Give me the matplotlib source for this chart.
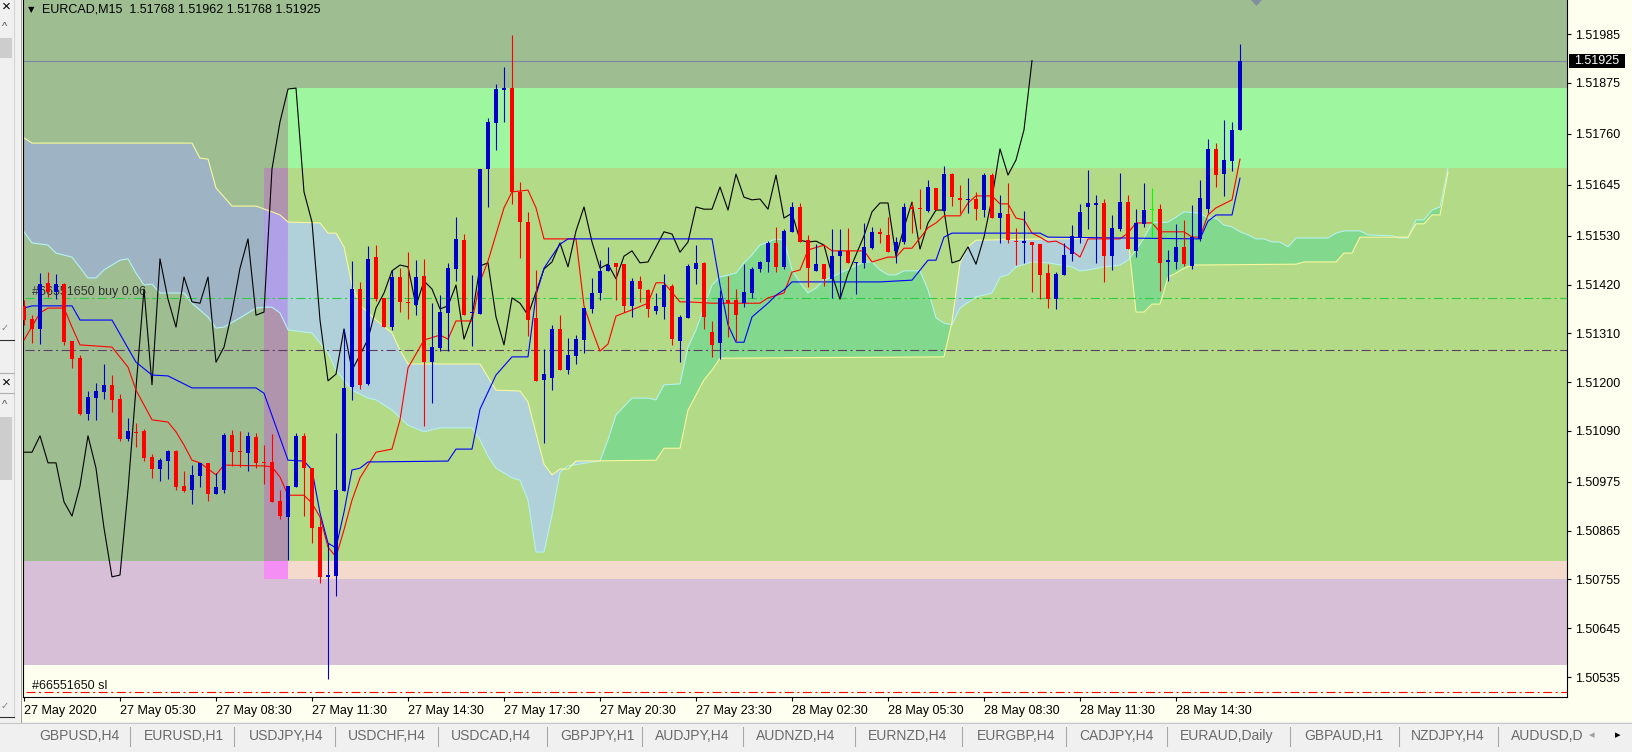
import numpy as np
import matplotlib
matplotlib.use('Agg')
import matplotlib.pyplot as plt
from matplotlib.patches import Rectangle, Polygon
import matplotlib.transforms as mtrans

plt.rcParams['font.family'] = ['Liberation Sans', 'DejaVu Sans']
plt.rcParams['lines.scale_dashes'] = False

# ---------------- data (EURCAD M15, bar 0 = 27 May 02:30) ----------------
symbol = 'EURCAD,M15'
time_labels = ['27 May 2020', '27 May 05:30', '27 May 08:30', '27 May 11:30',
               '27 May 14:30', '27 May 17:30', '27 May 20:30', '27 May 23:30',
               '28 May 02:30', '28 May 05:30', '28 May 08:30', '28 May 11:30',
               '28 May 14:30']
price_ticks = [1.51985, 1.51875, 1.51760, 1.51645, 1.51530, 1.51420, 1.51310,
               1.51200, 1.51090, 1.50975, 1.50865, 1.50755, 1.50645, 1.50535]

opens = [1.51372, 1.51342, 1.51320, 1.51424, 1.51403, 1.51421, 1.51293, 1.51254, 1.51128, 1.51164,
         1.51178, 1.51194, 1.51162, 1.51072, 1.51088, 1.51090, 1.51031, 1.51004, 1.51022, 1.51045,
         1.50966, 1.50957, 1.50988, 1.51018, 1.50948, 1.50957, 1.51081, 1.51045, 1.51040, 1.51076,
         1.51020, 1.51020, 1.50932, 1.50896, 1.50964, 1.51079, 1.51006, 1.50873, 1.50761, 1.50763,
         1.50954, 1.51189, 1.51410, 1.51196, 1.51482, 1.51390, 1.51324, 1.51437, 1.51381, 1.51374,
         1.51439, 1.51245, 1.51277, 1.51356, 1.51455, 1.51520, 1.51356, 1.51354, 1.51681, 1.51784,
         1.51859, 1.51863, 1.51629, 1.51561, 1.51345, 1.51205, 1.51209, 1.51320, 1.51227, 1.51259,
         1.51295, 1.51365, 1.51401, 1.51451, 1.51469, 1.51466, 1.51372, 1.51428, 1.51408, 1.51360,
         1.51369, 1.51417, 1.51293, 1.51345, 1.51455, 1.51469, 1.51313, 1.51288, 1.51385, 1.51385,
         1.51378, 1.51401, 1.51455, 1.51471, 1.51514, 1.51460, 1.51539, 1.51595, 1.51520, 1.51451,
         1.51466, 1.51433, 1.51484, 1.51496, 1.51469, 1.51469, 1.51502, 1.51539, 1.51532, 1.51496,
         1.51516, 1.51595, 1.51593, 1.51586, 1.51638, 1.51586, 1.51669, 1.51615, 1.51611, 1.51613,
         1.51588, 1.51667, 1.51570, 1.51579, 1.51518, 1.51514, 1.51516, 1.51511, 1.51446, 1.51387,
         1.51442, 1.51489, 1.51527, 1.51595, 1.51599, 1.51604, 1.51484, 1.51545, 1.51606, 1.51496,
         1.51557, 1.51588, 1.51590, 1.51471, 1.51471, 1.51505, 1.51462, 1.51523, 1.51590, 1.51726,
         1.51669, 1.51699, 1.51768]
highs = [1.51385, 1.51351, 1.51446, 1.51448, 1.51444, 1.51424, 1.51293, 1.51261, 1.51180, 1.51198,
         1.51241, 1.51216, 1.51173, 1.51119, 1.51108, 1.51094, 1.51038, 1.51029, 1.51047, 1.51047,
         1.51000, 1.51013, 1.51018, 1.51018, 1.50995, 1.51085, 1.51092, 1.51090, 1.51088, 1.51085,
         1.51058, 1.51083, 1.50957, 1.50966, 1.51085, 1.51085, 1.51006, 1.50896, 1.50837, 1.51085,
         1.51320, 1.51473, 1.51426, 1.51507, 1.51509, 1.51390, 1.51453, 1.51457, 1.51493, 1.51475,
         1.51478, 1.51378, 1.51396, 1.51469, 1.51572, 1.51534, 1.51442, 1.51681, 1.51796, 1.51872,
         1.51911, 1.51983, 1.51651, 1.51584, 1.51453, 1.51275, 1.51329, 1.51351, 1.51300, 1.51306,
         1.51367, 1.51435, 1.51475, 1.51505, 1.51469, 1.51466, 1.51435, 1.51439, 1.51410, 1.51401,
         1.51444, 1.51421, 1.51351, 1.51466, 1.51509, 1.51471, 1.51338, 1.51408, 1.51439, 1.51410,
         1.51466, 1.51460, 1.51473, 1.51518, 1.51550, 1.51545, 1.51606, 1.51604, 1.51532, 1.51511,
         1.51466, 1.51545, 1.51545, 1.51548, 1.51471, 1.51559, 1.51550, 1.51548, 1.51572, 1.51527,
         1.51604, 1.51606, 1.51636, 1.51656, 1.51638, 1.51687, 1.51672, 1.51645, 1.51660, 1.51629,
         1.51672, 1.51672, 1.51622, 1.51649, 1.51548, 1.51586, 1.51516, 1.51511, 1.51466, 1.51448,
         1.51514, 1.51554, 1.51602, 1.51678, 1.51622, 1.51613, 1.51577, 1.51672, 1.51622, 1.51590,
         1.51649, 1.51638, 1.51602, 1.51498, 1.51557, 1.51566, 1.51599, 1.51656, 1.51748, 1.51739,
         1.51791, 1.51787, 1.51962]
lows = [1.51329, 1.51288, 1.51286, 1.51392, 1.51387, 1.51284, 1.51232, 1.51126, 1.51115, 1.51115,
        1.51162, 1.51133, 1.51067, 1.51067, 1.51054, 1.51022, 1.50984, 1.50977, 1.50982, 1.50957,
        1.50952, 1.50925, 1.50964, 1.50932, 1.50948, 1.50950, 1.51011, 1.51009, 1.51000, 1.51006,
        1.50970, 1.50930, 1.50891, 1.50799, 1.50964, 1.50898, 1.50837, 1.50747, 1.50531, 1.50718,
        1.50954, 1.51160, 1.51184, 1.51194, 1.51383, 1.51324, 1.51318, 1.51358, 1.51342, 1.51351,
        1.51101, 1.51153, 1.51270, 1.51270, 1.51428, 1.51351, 1.51281, 1.51354, 1.51595, 1.51723,
        1.51787, 1.51602, 1.51480, 1.51304, 1.51203, 1.51063, 1.51182, 1.51227, 1.51218, 1.51241,
        1.51266, 1.51356, 1.51385, 1.51451, 1.51385, 1.51358, 1.51347, 1.51381, 1.51347, 1.51354,
        1.51342, 1.51284, 1.51245, 1.51345, 1.51421, 1.51320, 1.51257, 1.51252, 1.51302, 1.51293,
        1.51369, 1.51390, 1.51448, 1.51448, 1.51448, 1.51455, 1.51539, 1.51516, 1.51415, 1.51451,
        1.51417, 1.51390, 1.51390, 1.51469, 1.51399, 1.51457, 1.51500, 1.51514, 1.51493, 1.51469,
        1.51511, 1.51536, 1.51545, 1.51584, 1.51588, 1.51586, 1.51597, 1.51581, 1.51581, 1.51566,
        1.51572, 1.51570, 1.51514, 1.51514, 1.51464, 1.51469, 1.51403, 1.51387, 1.51367, 1.51365,
        1.51442, 1.51473, 1.51514, 1.51545, 1.51469, 1.51426, 1.51453, 1.51541, 1.51500, 1.51482,
        1.51550, 1.51527, 1.51405, 1.51428, 1.51455, 1.51462, 1.51455, 1.51518, 1.51581, 1.51640,
        1.51620, 1.51676, 1.51768]
closes = [1.51340, 1.51320, 1.51421, 1.51403, 1.51421, 1.51290, 1.51252, 1.51128, 1.51166, 1.51180,
          1.51194, 1.51160, 1.51072, 1.51090, 1.51085, 1.51029, 1.51004, 1.51024, 1.51045, 1.50964,
          1.50954, 1.50991, 1.51018, 1.50948, 1.50964, 1.51081, 1.51042, 1.51042, 1.51079, 1.51018,
          1.51018, 1.50930, 1.50898, 1.50966, 1.51079, 1.51006, 1.50871, 1.50761, 1.50765, 1.50957,
          1.51187, 1.51410, 1.51194, 1.51478, 1.51387, 1.51324, 1.51437, 1.51381, 1.51378, 1.51437,
          1.51245, 1.51279, 1.51358, 1.51457, 1.51523, 1.51351, 1.51358, 1.51681, 1.51787, 1.51861,
          1.51863, 1.51629, 1.51561, 1.51340, 1.51203, 1.51218, 1.51320, 1.51227, 1.51261, 1.51297,
          1.51367, 1.51401, 1.51451, 1.51464, 1.51460, 1.51372, 1.51428, 1.51410, 1.51365, 1.51372,
          1.51419, 1.51297, 1.51347, 1.51462, 1.51469, 1.51347, 1.51284, 1.51390, 1.51378, 1.51351,
          1.51403, 1.51455, 1.51471, 1.51514, 1.51460, 1.51541, 1.51595, 1.51516, 1.51457, 1.51466,
          1.51433, 1.51484, 1.51496, 1.51469, 1.51471, 1.51505, 1.51539, 1.51534, 1.51493, 1.51516,
          1.51595, 1.51590, 1.51590, 1.51640, 1.51588, 1.51669, 1.51617, 1.51611, 1.51613, 1.51590,
          1.51667, 1.51570, 1.51581, 1.51520, 1.51516, 1.51518, 1.51509, 1.51442, 1.51387, 1.51444,
          1.51487, 1.51530, 1.51584, 1.51604, 1.51604, 1.51484, 1.51548, 1.51606, 1.51500, 1.51559,
          1.51588, 1.51588, 1.51469, 1.51475, 1.51505, 1.51466, 1.51527, 1.51615, 1.51726, 1.51667,
          1.51701, 1.51769, 1.51925]

# Ichimoku lines as (bar, price) breakpoints
tenkan_bars = [0, 2, 3, 5, 6, 7, 11, 13, 14, 16,
               18, 19, 20, 21, 22, 24, 25, 30, 31, 32,
               33, 35, 36, 37, 38, 39, 40, 41, 42, 44,
               46, 47, 48, 50, 52, 53, 54, 56, 57, 58,
               60, 61, 63, 64, 65, 69, 70, 71, 72, 73,
               74, 76, 78, 79, 80, 82, 83, 86, 92, 93,
               95, 96, 97, 98, 100, 101, 105, 106, 108, 109,
               110, 111, 112, 113, 114, 115, 117, 118, 119, 121,
               122, 123, 124, 125, 126, 127, 128, 129, 130, 132,
               133, 137, 138, 139, 141, 142, 145, 146, 147, 148,
               149, 151, 152]
tenkan_vals = [1.51295, 1.51356, 1.51367, 1.51367, 1.51324, 1.51284, 1.51279, 1.51234, 1.51182, 1.51115,
               1.51110, 1.51088, 1.51058, 1.51024, 1.51018, 1.50991, 1.51013, 1.51011, 1.51009, 1.50986,
               1.50945, 1.50945, 1.50927, 1.50896, 1.50828, 1.50806, 1.50867, 1.50934, 1.50984, 1.51042,
               1.51049, 1.51115, 1.51232, 1.51295, 1.51306, 1.51297, 1.51338, 1.51338, 1.51426, 1.51473,
               1.51593, 1.51629, 1.51633, 1.51593, 1.51523, 1.51523, 1.51372, 1.51318, 1.51270, 1.51286,
               1.51349, 1.51363, 1.51378, 1.51424, 1.51424, 1.51381, 1.51381, 1.51378, 1.51378, 1.51390,
               1.51401, 1.51448, 1.51453, 1.51498, 1.51509, 1.51496, 1.51496, 1.51471, 1.51482, 1.51482,
               1.51502, 1.51502, 1.51525, 1.51548, 1.51559, 1.51575, 1.51575, 1.51604, 1.51620, 1.51620,
               1.51602, 1.51602, 1.51570, 1.51566, 1.51536, 1.51527, 1.51516, 1.51518, 1.51509, 1.51482,
               1.51523, 1.51523, 1.51536, 1.51559, 1.51559, 1.51539, 1.51539, 1.51527, 1.51527, 1.51577,
               1.51593, 1.51611, 1.51703]

kijun_bars = [0, 1, 6, 7, 11, 14, 16, 18, 21, 29,
              30, 33, 35, 36, 37, 38, 39, 40, 41, 42,
              43, 53, 54, 56, 57, 59, 61, 63, 64, 65,
              67, 68, 86, 87, 88, 89, 90, 91, 93, 94,
              95, 96, 107, 111, 113, 114, 115, 116, 127, 128,
              147, 148, 149, 151, 152]
kijun_vals = [1.51367, 1.51372, 1.51372, 1.51340, 1.51340, 1.51245, 1.51216, 1.51214, 1.51187, 1.51187,
              1.51175, 1.51024, 1.51022, 1.51002, 1.50905, 1.50837, 1.50826, 1.50907, 1.51002, 1.51006,
              1.51020, 1.51022, 1.51049, 1.51049, 1.51139, 1.51216, 1.51257, 1.51257, 1.51396, 1.51457,
              1.51511, 1.51523, 1.51523, 1.51419, 1.51329, 1.51290, 1.51290, 1.51347, 1.51378, 1.51396,
              1.51408, 1.51426, 1.51426, 1.51430, 1.51475, 1.51475, 1.51527, 1.51536, 1.51536, 1.51527,
              1.51523, 1.51563, 1.51577, 1.51577, 1.51660]

span_a_bars = [0, 1, 3, 4, 6, 8, 9, 10, 12, 13, 14, 15, 16, 17, 20, 21, 23, 24, 25, 27,
               29, 30, 31, 32, 33, 35, 36, 38, 39, 40, 41, 43, 44, 46, 48, 50, 52, 56, 57, 58,
               59, 61, 62, 63, 64, 65, 66, 67, 68, 71, 72, 73, 74, 76, 78, 79, 80, 82, 83, 84,
               85, 86, 87, 89, 90, 91, 92, 94, 95, 96, 97, 98, 99, 100, 101, 102, 105, 106, 107, 108,
               109, 110, 112, 113, 114, 115, 116, 117, 119, 121, 122, 123, 124, 126, 128, 131, 132, 133, 135, 137,
               138, 139, 140, 141, 143, 144, 145, 147, 148, 149, 150, 151, 152, 153, 154, 155, 156, 157, 158, 159,
               163, 164, 165, 167, 168, 171, 172, 173, 174, 175, 176, 177, 178]
span_a_vals = [1.51539, 1.51514, 1.51509, 1.51491, 1.51482, 1.51435, 1.51435, 1.51453, 1.51475, 1.51478,
               1.51446, 1.51419, 1.51421, 1.51401, 1.51401, 1.51378, 1.51347, 1.51322, 1.51324, 1.51345,
               1.51367, 1.51369, 1.51369, 1.51356, 1.51318, 1.51313, 1.51311, 1.51266, 1.51227, 1.51205,
               1.51182, 1.51164, 1.51160, 1.51137, 1.51103, 1.51088, 1.51097, 1.51097, 1.51070, 1.51033,
               1.51006, 1.50984, 1.50979, 1.50934, 1.50817, 1.50817, 1.50900, 1.50997, 1.51011, 1.51020,
               1.51022, 1.51070, 1.51126, 1.51164, 1.51164, 1.51160, 1.51194, 1.51196, 1.51279, 1.51318,
               1.51369, 1.51419, 1.51437, 1.51446, 1.51469, 1.51487, 1.51509, 1.51523, 1.51520, 1.51453,
               1.51424, 1.51401, 1.51412, 1.51430, 1.51437, 1.51446, 1.51471, 1.51471, 1.51453, 1.51442,
               1.51442, 1.51451, 1.51451, 1.51408, 1.51345, 1.51333, 1.51329, 1.51367, 1.51392, 1.51401,
               1.51437, 1.51442, 1.51460, 1.51471, 1.51469, 1.51460, 1.51451, 1.51453, 1.51460, 1.51464,
               1.51475, 1.51498, 1.51525, 1.51559, 1.51561, 1.51572, 1.51584, 1.51581, 1.51570, 1.51570,
               1.51554, 1.51550, 1.51539, 1.51532, 1.51523, 1.51523, 1.51516, 1.51516, 1.51505, 1.51525,
               1.51525, 1.51536, 1.51541, 1.51541, 1.51532, 1.51530, 1.51525, 1.51525, 1.51566, 1.51566,
               1.51588, 1.51595, 1.51683]

span_b_bars = [0, 1, 21, 22, 23, 24, 26, 29, 31, 32,
               33, 37, 38, 39, 40, 41, 42, 44, 46, 47,
               48, 57, 59, 62, 63, 65, 66, 67, 68, 69,
               79, 80, 82, 83, 85, 86, 87, 115, 116, 117,
               118, 119, 128, 138, 139, 140, 141, 142, 143, 144,
               145, 146, 159, 160, 164, 165, 166, 167, 173, 174,
               175, 176, 177, 178]
span_b_vals = [1.51751, 1.51739, 1.51739, 1.51705, 1.51703, 1.51638, 1.51597, 1.51597, 1.51584, 1.51577,
               1.51561, 1.51559, 1.51536, 1.51536, 1.51505, 1.51419, 1.51374, 1.51340, 1.51311, 1.51272,
               1.51241, 1.51241, 1.51182, 1.51180, 1.51155, 1.51015, 1.50991, 1.51004, 1.51004, 1.51022,
               1.51024, 1.51051, 1.51051, 1.51137, 1.51205, 1.51227, 1.51254, 1.51257, 1.51336, 1.51469,
               1.51505, 1.51520, 1.51523, 1.51525, 1.51358, 1.51358, 1.51376, 1.51376, 1.51437, 1.51446,
               1.51457, 1.51464, 1.51466, 1.51471, 1.51471, 1.51491, 1.51491, 1.51527, 1.51527, 1.51557,
               1.51557, 1.51577, 1.51577, 1.51674]

chikou_shift = 26
order_price = 1.51390
order_label = '#66551650 buy 0.06'
sl_price = 1.50501
sl_label = '#66551650 sl'
level_price = 1.51272

# zone rectangles: (bar from, bar to, price low, price high, colour)
zones = [
    (-1, 200, 1.50797, 1.53000, '#9EBE92'),
    (33, 200, 1.51683, 1.51863, '#9EF69E'),
    (33, 200, 1.50797, 1.51683, '#B3DA86'),
    (30, 33, 1.50797, 1.51683, '#B094AE'),
    (-1, 200, 1.50562, 1.50797, '#D8BFD8'),
    (33, 200, 1.50756, 1.50797, '#F3DACC'),
    (30, 33, 1.50756, 1.50797, '#F48EF4'),
]

tabs = ['GBPUSD,H4', 'EURUSD,H1', 'USDJPY,H4', 'USDCHF,H4', 'USDCAD,H4', 'GBPJPY,H1',
        'AUDJPY,H4', 'AUDNZD,H4', 'EURNZD,H4', 'EURGBP,H4', 'CADJPY,H4', 'EURAUD,Daily',
        'GBPAUD,H1', 'NZDJPY,H4', 'AUDUSD,D']

# ---------------- figure ----------------
W, H = 1633, 752
fig = plt.figure(figsize=(W / 100, H / 100), dpi=100, facecolor='#FFFFF0')


def fx(x):
    return x / W


def fy(y):
    return 1 - y / H


ax = fig.add_axes([fx(23), fy(697), (1567 - 23) / W, 697 / H])
ax.set_facecolor('#FFFFF0')
ax.set_xlim(-0.125, 192.875)
ax.set_ylim(1.50490, 1.520617)

for x0, x1, p0, p1, col in zones:
    ax.add_patch(Rectangle((x0, p0), x1 - x0, p1 - p0, facecolor=col, lw=0, zorder=0))

# cloud
xg = np.linspace(0, 178, 178 * 20 + 1)
sa = np.interp(xg, span_a_bars, span_a_vals)
sb = np.interp(xg, span_b_bars, span_b_vals)
bull = sa >= sb
ax.fill_between(xg, sa, sb, where=bull, color='#82D88C', lw=0, interpolate=True, zorder=1)
ax.fill_between(xg, sa, sb, where=~bull & (xg <= 30), color='#9EB4C4', lw=0, interpolate=True, zorder=1)
ax.fill_between(xg, sa, sb, where=~bull & (xg >= 30) & (xg <= 33), color='#B0A0E8', lw=0,
                interpolate=True, zorder=1)
ax.fill_between(xg, sa, sb, where=~bull & (xg >= 33), color='#B0D0DA', lw=0, interpolate=True, zorder=1)
ax.plot(span_a_bars, span_a_vals, color='#B4F2F0', lw=0.8, zorder=2)
ax.plot(span_b_bars, span_b_vals, color='#F8F8A0', lw=0.8, zorder=2)

# horizontal levels
ax.axhline(closes[-1], color='#7B86A6', lw=0.8, zorder=2)
ax.axhline(order_price, xmin=0.001, color='#2ECC40', lw=0.8, ls=(0, (6.5, 2.5, 1.5, 2.5)), zorder=2)
ax.axhline(level_price, xmin=0.001, color='#5A4060', lw=0.8, ls=(0, (6.5, 2.5, 1.5, 2.5)), zorder=2)
ax.axhline(sl_price, xmin=0.002, color='#FF0000', lw=0.8, ls=(0, (6.5, 2.5, 1.5, 2.5)), zorder=2)
ax.text(1.0, order_price, order_label, fontsize=9, color='#303030', ha='left', va='bottom', zorder=2.5)
ax.text(1.0, sl_price, sl_label, fontsize=9, color='#101010', ha='left', va='bottom', zorder=2.5)

bars = np.arange(len(closes))
o = np.array(opens)
h = np.array(highs)
l = np.array(lows)
c = np.array(closes)

# chikou, tenkan, kijun
ax.plot(bars[chikou_shift:] - chikou_shift, c[chikou_shift:], color='black', lw=0.8, zorder=3)
ax.plot(tenkan_bars, tenkan_vals, color='#FF0000', lw=0.8, zorder=3)
ax.plot(kijun_bars, kijun_vals, color='#0000FF', lw=0.8, zorder=3)

# candles
cols = np.where(c > o, '#0000CD', np.where(c < o, '#FF0000', '#00FF00'))
ax.vlines(bars, l, h, colors=cols, lw=0.8, zorder=4)
body = np.maximum(np.abs(c - o), 0.000025)
ax.bar(bars, body, bottom=np.minimum(o, c), width=0.62, color=cols, lw=0, zorder=4)

# axes styling
for s in ['left', 'right', 'bottom']:
    ax.spines[s].set_color('black')
    ax.spines[s].set_linewidth(0.8)
ax.spines['top'].set_visible(False)
ax.yaxis.tick_right()
ax.set_yticks(price_ticks)
ax.set_yticklabels([f'{v:.5f}' for v in price_ticks])
ax.tick_params(axis='y', length=3, width=0.8, pad=2.5, labelsize=9)
ax.set_xticks(np.arange(0, len(time_labels) * 12, 12))
ax.set_xticklabels(time_labels, ha='left')
ax.tick_params(axis='x', length=3, width=0.8, pad=2.5, labelsize=9)

# current price box
trans = mtrans.blended_transform_factory(ax.transAxes, ax.transData)
ax.add_patch(Rectangle((1 + 2 / 1544, closes[-1] - 0.000158), 56 / 1544, 0.000316,
                       transform=trans, facecolor='black', lw=0, clip_on=False, zorder=10))
ax.text(1 + 7 / 1544, closes[-1], f'{closes[-1]:.5f}', transform=trans, color='white',
        fontsize=9, va='center', ha='left', zorder=11, clip_on=False)

# header
fig.text(fx(28), fy(10), '\u25bc', fontsize=6, va='center', ha='left', family='DejaVu Sans')
fig.text(fx(42), fy(10), f'{symbol}  {opens[-1]:.5f} {highs[-1]:.5f} {lows[-1]:.5f} {closes[-1]:.5f}',
         fontsize=9, va='center', ha='left')
fig.patches.append(Polygon([(fx(1251), fy(0)), (fx(1262), fy(0)), (fx(1256.5), fy(6))],
                           closed=True, transform=fig.transFigure, facecolor='#8090A0', lw=0))

# left docked panel
fig.patches.append(Rectangle((0, fy(722)), fx(20), 722 / H, transform=fig.transFigure,
                             facecolor='#F0F0F0', lw=0))
fig.patches.append(Rectangle((0, fy(58)), fx(12), 20 / H, transform=fig.transFigure,
                             facecolor='#CDCDCD', lw=0))
fig.patches.append(Rectangle((0, fy(480)), fx(12), 63 / H, transform=fig.transFigure,
                             facecolor='#CDCDCD', lw=0))
fig.lines.append(plt.Line2D([fx(14.5), fx(14.5)], [fy(0), fy(717)], transform=fig.transFigure,
                            color='#D4D4D4', lw=0.8))
fig.lines.append(plt.Line2D([fx(20.5), fx(20.5)], [fy(0), fy(722)], transform=fig.transFigure,
                            color='#A0A0A0', lw=0.8))
for yy, col in [(340, '#303030'), (373, '#B0B0B0'), (393, '#B0B0B0'), (717, '#303030')]:
    fig.lines.append(plt.Line2D([0, fx(14)], [fy(yy), fy(yy)], transform=fig.transFigure,
                                color=col, lw=0.8))
for yy in [7, 383]:
    fig.text(fx(6), fy(yy), '\u00d7', fontsize=11, va='center', ha='center', color='black')
for yy in [27, 405]:
    fig.text(fx(5), fy(yy), '^', fontsize=8, va='center', ha='center', color='#505050')
for yy in [328, 706]:
    fig.text(fx(5), fy(yy), '\u2713', fontsize=7, va='center', ha='center', color='#808080',
             family='DejaVu Sans')

# tab bar
fig.patches.append(Rectangle((0, 0), 1, 30 / H, transform=fig.transFigure, facecolor='#F0F0F0', lw=0))
fig.lines.append(plt.Line2D([0, 1], [fy(722.5), fy(722.5)], transform=fig.transFigure,
                            color='#C8C8C8', lw=0.8))
tab_x = [39, 144, 249, 348, 451, 560, 655, 756, 868, 977, 1079, 1180, 1304, 1411, 1511]
sep_x = [130, 234, 335, 438, 547, 642, 743, 855, 962, 1066, 1167, 1290, 1399, 1498]
for name, xx in zip(tabs, tab_x):
    fig.text(fx(xx), fy(736), name, fontsize=10, color='#6A6A6A', va='center', ha='left')
for xx in sep_x:
    fig.lines.append(plt.Line2D([fx(xx), fx(xx)], [fy(727), fy(746)], transform=fig.transFigure,
                                color='#A8A8A8', lw=0.8))
fig.patches.append(Rectangle((fx(1586), 0), fx(47), 30 / H, transform=fig.transFigure,
                             facecolor='#F0F0F0', lw=0))
fig.text(fx(1592), fy(735), '\u25c2', fontsize=8, color='#A0A0A0', va='center', ha='center',
         family='DejaVu Sans')
fig.text(fx(1618), fy(735), '\u25b8', fontsize=8, color='black', va='center', ha='center',
         family='DejaVu Sans')

fig.savefig('out.png', dpi=100, facecolor=fig.get_facecolor())
